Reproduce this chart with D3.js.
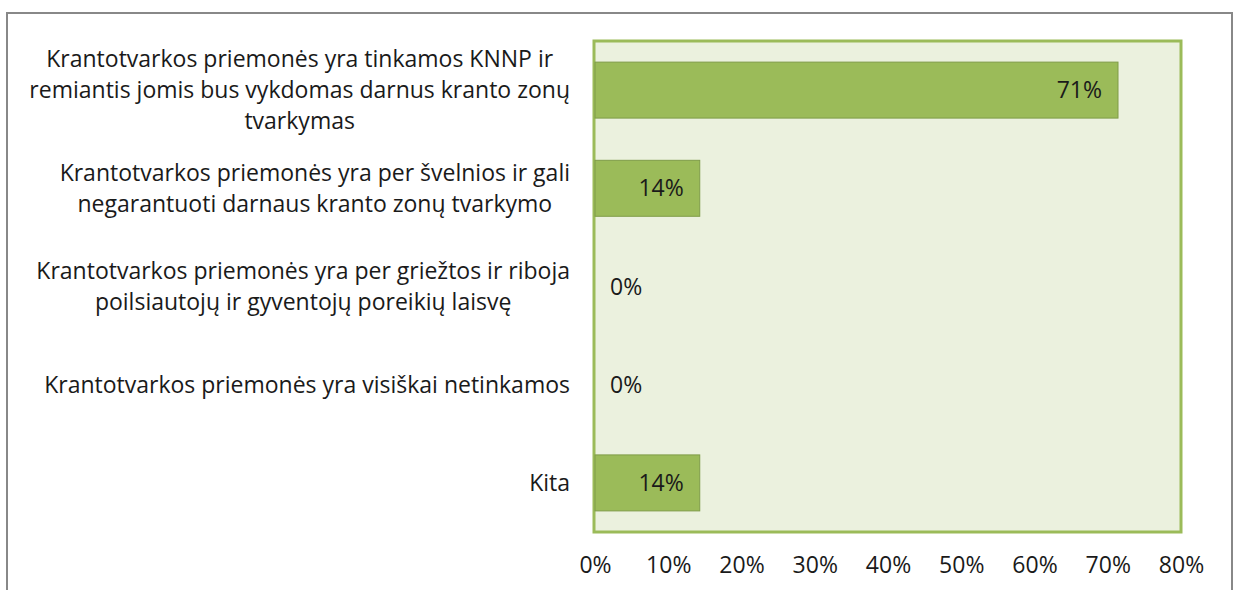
<!DOCTYPE html>
<html>
<head>
<meta charset="utf-8">
<script src="https://cdn.jsdelivr.net/npm/d3@7"></script>
<style>
  body { margin: 0; background: #fff; }
  text { font-family: "Open Sans", sans-serif; fill: #1a1a1a; }
</style>
</head>
<body>
<div id="chart"></div>
<script>
// Categories (each split into the lines shown on the axis)
let categories = [
  ["Krantotvarkos priemonės yra tinkamos KNNP ir", "remiantis jomis bus vykdomas darnus kranto zonų", "tvarkymas"],
  ["Krantotvarkos priemonės yra per švelnios ir gali", "negarantuoti darnaus kranto zonų tvarkymo"],
  ["Krantotvarkos priemonės yra per griežtos ir riboja", "poilsiautojų ir gyventojų poreikių laisvę"],
  ["Krantotvarkos priemonės yra visiškai netinkamos"],
  ["Kita"]
];
let values = [71.4, 14.3, 0, 0, 14.3];
let valueLabels = ["71%", "14%", "0%", "0%", "14%"];
let xTicks = [0, 10, 20, 30, 40, 50, 60, 70, 80];

let W = 1235, H = 590;
let plot = { left: 595, right: 1181, top: 41, bottom: 532 };
let fontSize = "23px";

let svg = d3.select("#chart").append("svg")
  .attr("width", W)
  .attr("height", H);

// Outer chart frame
svg.append("rect")
  .attr("x", 7).attr("y", 13)
  .attr("width", 1225).attr("height", 600)
  .attr("fill", "#fff")
  .attr("stroke", "#888")
  .attr("stroke-width", 2);

let x = d3.scaleLinear().domain([0, 80]).range([plot.left, plot.right]);
let y = d3.scaleBand()
  .domain(d3.range(categories.length))
  .range([plot.top, plot.bottom])
  .paddingInner(0.43)
  .paddingOuter(0.215);

// Plot area
svg.append("rect")
  .attr("x", plot.left - 1)
  .attr("y", plot.top)
  .attr("width", plot.right - plot.left + 1)
  .attr("height", plot.bottom - plot.top)
  .attr("fill", "#ebf1de")
  .attr("stroke", "#9bbb59")
  .attr("stroke-width", 3);

// Bars
svg.selectAll(".bar")
  .data(values)
  .enter()
  .append("rect")
  .attr("class", "bar")
  .attr("x", x(0))
  .attr("y", (d, i) => y(i))
  .attr("width", (d) => Math.max(0, x(d) - x(0)))
  .attr("height", y.bandwidth())
  .attr("fill", "#9bbb59")
  .attr("stroke", (d) => (d > 0 ? "#7f9c48" : "none"))
  .attr("stroke-width", 1);

// Value labels
svg.selectAll(".vlabel")
  .data(values)
  .enter()
  .append("text")
  .attr("class", "vlabel")
  .attr("x", (d) => (d > 0 ? x(d) - 16 : x(0) + 15))
  .attr("y", (d, i) => y(i) + y.bandwidth() / 2)
  .attr("dy", "0.35em")
  .attr("text-anchor", (d) => (d > 0 ? "end" : "start"))
  .style("font-size", fontSize)
  .text((d, i) => valueLabels[i]);

// X axis labels
let xAxis = svg.append("g")
  .attr("transform", `translate(0,${plot.bottom + 25})`)
  .call(d3.axisBottom(x).tickValues(xTicks).tickSize(0).tickPadding(0).tickFormat((d) => d + "%"));
xAxis.select(".domain").remove();
xAxis.selectAll(".tick text")
  .style("font-size", fontSize)
  .style("font-family", "'Open Sans', sans-serif")
  .attr("fill", "#1a1a1a");

// Category labels: lines centered on each other, block right-aligned
let labelRight = 570, lineH = 31;
categories.forEach((lines, i) => {
  let g = svg.append("g");
  let texts = g.selectAll("text")
    .data(lines)
    .enter()
    .append("text")
    .style("font-size", fontSize)
    .text((d) => d);
  let maxW = d3.max(texts.nodes(), (n) => n.getComputedTextLength());
  let cy = y(i) + y.bandwidth() / 2;
  let startY = cy - ((lines.length - 1) * lineH) / 2;
  texts
    .attr("x", labelRight - maxW / 2)
    .attr("y", (d, j) => startY + j * lineH)
    .attr("dy", "0.35em")
    .attr("text-anchor", "middle");
});
</script>
</body>
</html>
